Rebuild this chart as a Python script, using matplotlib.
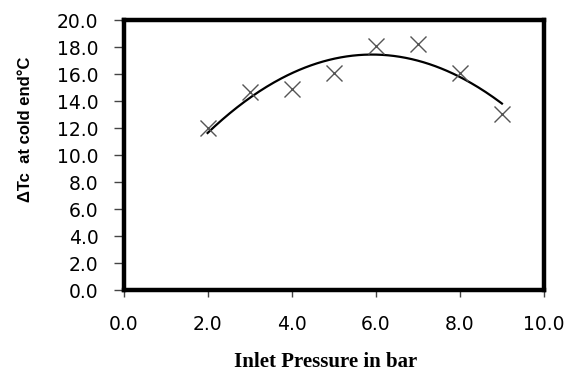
import numpy as np
import matplotlib
matplotlib.use("Agg")
import matplotlib.pyplot as plt

pressure = [2, 3, 4, 5, 6, 7, 8, 9]
delta_tc = [12.0, 14.7, 14.9, 16.05, 18.05, 18.25, 16.05, 13.05]
xticks = [0, 2, 4, 6, 8, 10]
yticks = [0, 2, 4, 6, 8, 10, 12, 14, 16, 18, 20]

fig = plt.figure(figsize=(5.71, 3.76), dpi=100)
ax = fig.add_axes([0.2163, 0.2287, 0.7364, 0.7181])

coef = np.polyfit(pressure, delta_tc, 2)
xs = np.linspace(min(pressure), max(pressure), 200)
ax.plot(xs, np.polyval(coef, xs), color='black', lw=1.6)
ax.plot(pressure, delta_tc, linestyle='none', marker='x', markersize=11,
        markeredgewidth=1.0, color='#555555')

ax.set_xlim(0, 10)
ax.set_ylim(0, 20)
ax.set_xticks(xticks)
ax.set_yticks(yticks)
ax.set_xticklabels([f"{v:.1f}" for v in xticks])
ax.set_yticklabels([f"{v:.1f}" for v in yticks])
for s in ax.spines.values():
    s.set_linewidth(3.2)
ax.tick_params(axis='y', direction='out', length=7, width=1, pad=11, labelsize=13.5, colors='#444444', labelcolor='black')
ax.tick_params(axis='x', direction='out', length=5, width=1, pad=13, labelsize=13.5, colors='#444444', labelcolor='black')

ax.set_xlabel("Inlet Pressure in bar", family='Liberation Serif', weight='bold', fontsize=15, va='center')
ax.xaxis.set_label_coords(0.4816, -0.267)
ax.set_ylabel("ΔTc  at cold end°C", family='Liberation Sans', weight='bold', fontsize=12, va='center', ha='center')
ax.yaxis.set_label_coords(-0.234, 0.594)

fig.savefig("out.png", dpi=100)
